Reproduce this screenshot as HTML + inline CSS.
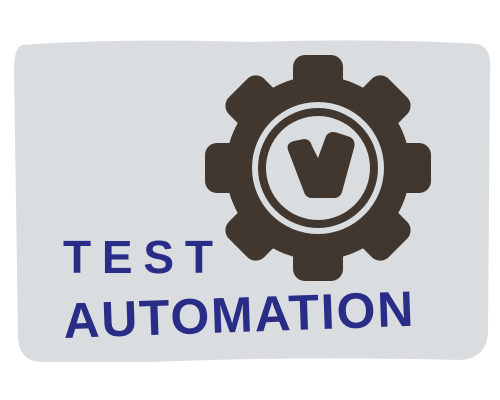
<!DOCTYPE html>
<html><head><style>html,body{margin:0;padding:0;background:#fff;width:500px;height:400px;overflow:hidden}</style></head>
<body>
<svg width="500" height="400" viewBox="0 0 500 400" xmlns="http://www.w3.org/2000/svg">
<path d="M22,45 Q120,38 250,42 Q380,38 478,44 Q492,48 490,70 L488,330 Q488,358 460,360 Q300,356 150,362 L40,362 Q18,360 18,335 L14,70 Q14,48 22,45 Z" fill="#d9dde0"/>
<g transform="translate(318,168)" fill="#41372f">
<circle r="92"/>
<g id="t"><rect x="-25" y="-113" width="50" height="40" rx="12"/></g>
<use href="#t" transform="rotate(45)"/><use href="#t" transform="rotate(90)"/><use href="#t" transform="rotate(135)"/>
<use href="#t" transform="rotate(180)"/><use href="#t" transform="rotate(225)"/><use href="#t" transform="rotate(270)"/><use href="#t" transform="rotate(315)"/>
<circle r="66" fill="#d9dde0"/>
<circle r="60"/>
<circle r="52" fill="#d9dde0"/>
<path d="M-30,-18 Q-32,-25 -24,-27 L-14,-29 Q-8,-29 -6,-22 L0,-10 L8,-32 Q12,-38 20,-35 L32,-31 Q38,-28 36,-20 L24,24 Q22,30 16,30 L-6,30 Q-12,30 -14,24 Z"/>
</g>
<g fill="#2a2d87" font-family="Liberation Sans, sans-serif" font-weight="bold">
<text x="63" y="273" font-size="46" textLength="150" lengthAdjust="spacing">TEST</text>
<text x="64" y="338" font-size="50" textLength="350" lengthAdjust="spacing" transform="rotate(-2 64 338)">AUTOMATION</text>
</g>
</svg>
</body></html>
